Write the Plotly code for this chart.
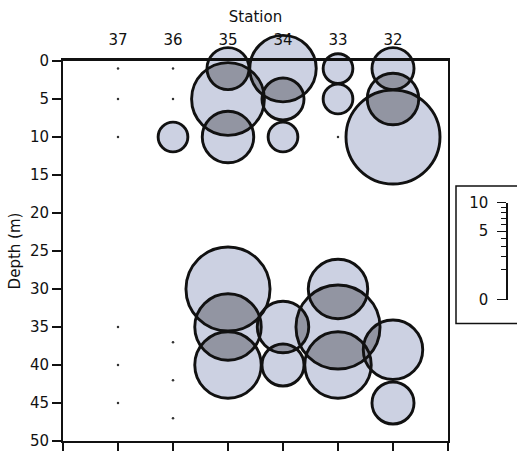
import numpy as np
import plotly.graph_objects as go

# ---------------- data ----------------
bubble_station = [35, 35, 35, 35, 35, 35,
                  34, 34, 34, 34, 34,
                  33, 33, 33, 33, 33,
                  32, 32, 32, 32, 32,
                  36]
bubble_depth = [1, 5, 10, 30, 35, 40,
                1, 5, 10, 35, 40,
                1, 5, 30, 35, 40,
                1, 5, 10, 38, 45,
                10]
bubble_value = [2, 6, 3, 8, 5, 5,
                5, 2, 1, 3, 2,
                1, 1, 4, 8, 5,
                2, 3, 10, 4, 2,
                1]
zero_station = [37, 37, 37, 37, 37, 37, 36, 36, 36, 36, 36, 33]
zero_depth = [1, 5, 10, 35, 40, 45, 1, 5, 37, 42, 47, 10]

station_ticks = [37, 36, 35, 34, 33, 32]
station_labels = ["37", "36", "35", "34", "33", "32"]
bottom_ticks = [38, 37, 36, 35, 34, 33, 32, 31]
depth_ticks = [0, 5, 10, 15, 20, 25, 30, 35, 40, 45, 50]
scale_major = [0, 5, 10]
scale_minor = [1, 2, 3, 4, 6, 7, 8, 9]

# ---------------- geometry / style ----------------
W, H = 517, 455
ML, MR, MT, MB = 63, 5, 61, 12
PW, PH = W - ML - MR, H - MT - MB
MAIN_W = 385
X_RANGE = [38, 31]
Y_RANGE = [50, 0]
XPX = MAIN_W / abs(X_RANGE[0] - X_RANGE[1])
YPX = PH / abs(Y_RANGE[0] - Y_RANGE[1])
R10 = 47.0                       # radius in px of a value-10 bubble
SIZEREF = 10 / (2 * R10 ** 2)    # plotly 'area' sizemode
FILL = "rgb(204,209,226)"
LENS = "rgb(146,149,162)"
FONT = "DejaVu Sans"


def radius(v):
    return np.sqrt(v / (2 * SIZEREF))


def to_px(s, d):
    return np.array([(X_RANGE[0] - s) * XPX, (d - Y_RANGE[1]) * YPX])


def to_data(p):
    return X_RANGE[0] - p[0] / XPX, Y_RANGE[1] + p[1] / YPX


# overlap (lens) regions between bubbles, computed in pixel space
lx, ly = [], []
n = len(bubble_value)
for i in range(n):
    for j in range(i + 1, n):
        c1 = to_px(bubble_station[i], bubble_depth[i])
        c2 = to_px(bubble_station[j], bubble_depth[j])
        r1, r2 = radius(bubble_value[i]), radius(bubble_value[j])
        d = np.linalg.norm(c2 - c1)
        if d >= r1 + r2:
            continue
        if d <= abs(r1 - r2):
            c, r = (c1, r1) if r1 < r2 else (c2, r2)
            t = np.linspace(0, 2 * np.pi, 80)
            pts = [c + r * np.array([np.cos(a), np.sin(a)]) for a in t]
        else:
            a = (r1 ** 2 - r2 ** 2 + d ** 2) / (2 * d)
            al1 = np.arccos(np.clip(a / r1, -1, 1))
            al2 = np.arccos(np.clip((d - a) / r2, -1, 1))
            th = np.arctan2(c2[1] - c1[1], c2[0] - c1[0])
            pts = [c1 + r1 * np.array([np.cos(t), np.sin(t)])
                   for t in np.linspace(th - al1, th + al1, 40)]
            pts += [c2 + r2 * np.array([np.cos(t), np.sin(t)])
                    for t in np.linspace(th + np.pi - al2, th + np.pi + al2, 40)]
            pts.append(pts[0])
        for p in pts:
            xs, ys = to_data(p)
            lx.append(xs)
            ly.append(ys)
        lx.append(None)
        ly.append(None)

fig = go.Figure()
fig.add_trace(go.Scatter(
    x=bubble_station, y=bubble_depth, mode="markers", cliponaxis=False,
    marker=dict(size=bubble_value, sizemode="area", sizeref=SIZEREF,
                color=FILL, opacity=1, line=dict(width=0)),
    hoverinfo="skip"))
fig.add_trace(go.Scatter(
    x=lx, y=ly, mode="lines", fill="toself", fillcolor=LENS,
    line=dict(width=0, color=LENS), hoverinfo="skip"))
fig.add_trace(go.Scatter(
    x=bubble_station, y=bubble_depth, mode="markers", cliponaxis=False,
    marker=dict(size=bubble_value, sizemode="area", sizeref=SIZEREF,
                color="rgba(0,0,0,0)", opacity=1,
                line=dict(width=2.9, color="#111")),
    hoverinfo="skip"))
fig.add_trace(go.Scatter(
    x=zero_station, y=zero_depth, mode="markers",
    marker=dict(size=2.5, color="#333"), hoverinfo="skip"))
# invisible carrier traces so that the top and scale axes are drawn
fig.add_trace(go.Scatter(x=[35], y=[25], xaxis="x3", yaxis="y",
                         mode="markers", marker=dict(size=1, opacity=0),
                         hoverinfo="skip"))
fig.add_trace(go.Scatter(x=[0], y=[0], xaxis="x2", yaxis="y2",
                         mode="markers", marker=dict(size=1, opacity=0),
                         hoverinfo="skip"))

axis_font = dict(family=FONT, size=15, color="#111")

fig.update_layout(
    width=W, height=H,
    margin=dict(l=ML, r=MR, t=MT, b=MB),
    paper_bgcolor="white", plot_bgcolor="white",
    showlegend=False,
    font=axis_font,
    xaxis=dict(domain=[0, MAIN_W / PW], range=X_RANGE, tickmode="array",
               tickvals=bottom_ticks, showticklabels=False, ticks="outside",
               ticklen=8, tickwidth=1.5, tickcolor="#111",
               showline=True, linewidth=2, linecolor="#111",
               showgrid=False, zeroline=False, anchor="y"),
    xaxis3=dict(overlaying="x", side="top", range=X_RANGE, tickmode="array",
                tickvals=station_ticks, ticktext=station_labels, ticks="",
                ticklabelstandoff=7,
                showline=True, linewidth=2.8, linecolor="#111",
                showgrid=False, zeroline=False, anchor="y",
                title=dict(text="Station", standoff=5, font=axis_font)),
    yaxis=dict(domain=[0, 1], range=Y_RANGE, tickmode="array",
               tickvals=depth_ticks, ticks="outside", ticklen=9,
               tickwidth=1.5, tickcolor="#111",
               showline=True, linewidth=2, linecolor="#111", mirror=True,
               showgrid=False, zeroline=False, anchor="x",
               title=dict(text="Depth (m)", standoff=6, font=axis_font)),
    xaxis2=dict(domain=[(508 - ML) / PW, 1], range=[0, 1], visible=False,
                anchor="y2"),
    yaxis2=dict(domain=[(H - MB - 301) / PH, (H - MB - 203.5) / PH],
                range=[0, np.sqrt(10)], anchor="x2", side="left",
                tickmode="array", tickvals=[np.sqrt(v) for v in scale_major],
                ticktext=[str(v) for v in scale_major],
                ticks="outside", ticklen=9, tickwidth=1.2, tickcolor="#111",
                ticklabelstandoff=6,
                minor=dict(tickvals=[np.sqrt(v) for v in scale_minor],
                           ticks="outside", ticklen=5, tickwidth=1,
                           tickcolor="#111"),
                showline=True, linewidth=1.5, linecolor="#111",
                showgrid=False, zeroline=False),
    shapes=[dict(type="rect", xref="paper", yref="paper",
                 x0=(456 - ML) / PW, x1=1.3,
                 y0=(H - MB - 325) / PH, y1=(H - MB - 186.7) / PH,
                 line=dict(color="#111", width=1.5))],
)

fig.write_html("out.html")
